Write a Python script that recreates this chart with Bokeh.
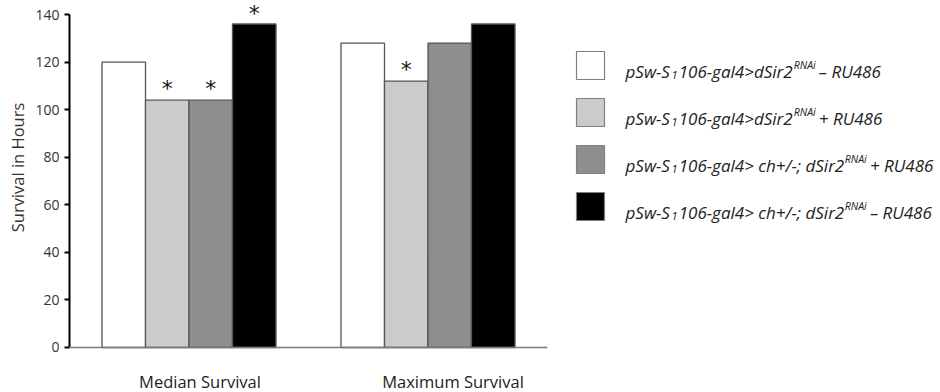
import math
from bokeh.plotting import figure
from bokeh.models import FactorRange, Range1d, FixedTicker, Span, ColumnDataSource
from bokeh.transform import dodge
from bokeh.layouts import row
from bokeh.core.properties import value
from bokeh.embed import file_html
from bokeh.resources import INLINE

# ---------------- data ----------------
groups = ["Median Survival", "Maximum Survival"]
ctrl_minus = [120, 128]   # pSw-S1106-gal4>dSir2RNAi - RU486
ctrl_plus = [104, 112]    # pSw-S1106-gal4>dSir2RNAi + RU486
ch_plus = [104, 128]      # pSw-S1106-gal4> ch+/-; dSir2RNAi + RU486
ch_minus = [136, 136]     # pSw-S1106-gal4> ch+/-; dSir2RNAi - RU486
sig_ctrl_minus = [False, False]
sig_ctrl_plus = [True, True]
sig_ch_plus = [True, False]
sig_ch_minus = [True, False]
y_ticks = [0, 20, 40, 60, 80, 100, 120, 140]
y_label = "Survival in Hours"

legend_rows = [
    [("pSw-S", "n"), ("1", "sub"), ("106-gal4>dSir2", "n"), ("RNAi", "sup"), (" \u2013 RU486", "n")],
    [("pSw-S", "n"), ("1", "sub"), ("106-gal4>dSir2", "n"), ("RNAi", "sup"), (" + RU486", "n")],
    [("pSw-S", "n"), ("1", "sub"), ("106-gal4> ch+/-; dSir2", "n"), ("RNAi", "sup"), (" + RU486", "n")],
    [("pSw-S", "n"), ("1", "sub"), ("106-gal4> ch+/-; dSir2", "n"), ("RNAi", "sup"), (" \u2013 RU486", "n")],
]

series = [ctrl_minus, ctrl_plus, ch_plus, ch_minus]
sigs = [sig_ctrl_minus, sig_ctrl_plus, sig_ch_plus, sig_ch_minus]
colors = ["#ffffff", "#cbcbcb", "#8e8e8e", "#000000"]

FONT = "Open Sans"
H = 392

# ---------------- y-axis title panel ----------------
YW = 30
ylab = figure(width=YW, height=H, x_range=Range1d(0, YW), y_range=Range1d(0, H),
              output_backend="svg", toolbar_location=None,
              min_border_left=0, min_border_right=0, min_border_top=0, min_border_bottom=0)
ylab.axis.visible = False
ylab.xgrid.grid_line_color = None
ylab.ygrid.grid_line_color = None
ylab.outline_line_color = None
ylab.text(x=[17], y=[H - 167], text=[y_label], angle=math.pi / 2,
          text_font=value(FONT), text_font_size="16.5px", text_color="#333333",
          text_align="center", text_baseline="middle")

# ---------------- main chart ----------------
PW = 553 - YW
Y_END = 145.89
p = figure(width=PW, height=H,
           x_range=FactorRange(*groups, range_padding=0, factor_padding=0),
           y_range=Range1d(-18.92, Y_END),
           x_axis_location=None,
           output_backend="svg", toolbar_location=None,
           min_border_left=69 - YW, min_border_right=6, min_border_top=0, min_border_bottom=0)
p.outline_line_color = None
p.xgrid.grid_line_color = None
p.ygrid.grid_line_color = None

bw = 0.182
src = ColumnDataSource(dict(group=groups, **{f"s{i}": s for i, s in enumerate(series)}))
for i, s in enumerate(series):
    off = (i - 1.5) * bw
    p.vbar(x=dodge("group", off, range=p.x_range), top=f"s{i}", bottom=0, width=bw, source=src,
           fill_color=colors[i], line_color="#555555", line_width=1.3)
    # significance asterisks above the bars (kept inside the plot area)
    xs, ys = [], []
    for g, v, flag in zip(groups, s, sigs[i]):
        if flag:
            xs.append(g)
            ys.append(min(v + 10.2, Y_END - 0.3))
    if xs:
        ssrc = ColumnDataSource(dict(x=xs, y=ys, t=["*"] * len(xs)))
        p.text(x=dodge("x", off, range=p.x_range), y="y", text="t", source=ssrc,
               text_font=value("DejaVu Sans"), text_font_size="22px",
               text_align="center", text_baseline="top",
               text_color="#111111")

p.add_layout(Span(location=0, dimension="width", line_color="#7a7a7a", line_width=1.5))

yax = p.yaxis[0]
yax.ticker = FixedTicker(ticks=y_ticks)
yax.bounds = (0, 140)
yax.axis_line_color = "black"
yax.axis_line_width = 2
yax.major_tick_line_color = "black"
yax.major_tick_line_width = 2
yax.major_tick_out = 5
yax.major_tick_in = 0
yax.minor_tick_line_color = None
yax.major_label_text_font = FONT
yax.major_label_text_font_size = "14px"
yax.major_label_text_color = "#333333"
yax.major_label_standoff = 5

# category names under the bar groups (as drawn in the original, slightly off-centre)
cat_src = ColumnDataSource(dict(g=groups, y=[0, 0], dx=[11, 25]))
p.text(x=dodge("g", 0, range=p.x_range), y="y", text="g", x_offset="dx", y_offset=34,
       source=cat_src, text_font=value(FONT), text_font_size="16.5px", text_color="#222222",
       text_align="center", text_baseline="alphabetic")

# ---------------- legend (separate panel) ----------------
LW = 940 - YW - PW
leg = figure(width=LW, height=H, x_range=Range1d(0, LW), y_range=Range1d(H, 0),
             output_backend="svg", toolbar_location=None,
             min_border_left=0, min_border_right=0, min_border_top=0, min_border_bottom=0)
leg.axis.visible = False
leg.xgrid.grid_line_color = None
leg.ygrid.grid_line_color = None
leg.outline_line_color = None

# approximate Open Sans italic advance widths (em)
W = {" ": .26, "-": .30, "/": .32, ";": .25, "+": .571, ">": .52, "\u2013": .5,
     "A": .633, "N": .754, "R": .617, "S": .52, "U": .732,
     "a": .55, "c": .46, "d": .58, "g": .52, "h": .58, "i": .24, "l": .24,
     "p": .58, "r": .36, "w": .72}
for dch in "0123456789":
    W[dch] = .571


def tw(s, size):
    return sum(W.get(c, .55) for c in s) * size


SIZES = {"n": 17, "sub": 11, "sup": 10.5}
SHIFT = {"n": 0, "sub": 3.5, "sup": -6.5}
GAP = {"n": 0, "sub": 1, "sup": 1.5}
row0, step = 65, 47
box_x, box_w = 37, 28
text_x0 = 72

leg.rect(x=[box_x] * 4, y=[row0 + k * step for k in range(4)], width=box_w, height=box_w,
         fill_color=colors, line_color="#808080", line_width=1.2)

parts = {k: dict(x=[], y=[], t=[]) for k in SIZES}
for k, segs in enumerate(legend_rows):
    x = text_x0
    base = row0 + k * step + 5.5
    for txt, kind in segs:
        x += GAP[kind]
        parts[kind]["x"].append(x)
        parts[kind]["y"].append(base + SHIFT[kind])
        parts[kind]["t"].append(txt)
        x += tw(txt, SIZES[kind]) + GAP[kind]
for kind, d in parts.items():
    leg.text(x="x", y="y", text="t", source=ColumnDataSource(d),
             text_font=value(FONT), text_font_style="italic",
             text_font_size=f"{SIZES[kind]}px", text_color="#222222",
             text_align="left", text_baseline="alphabetic")

layout = row(ylab, p, leg)
open("out.html", "w").write(file_html(layout, INLINE))
